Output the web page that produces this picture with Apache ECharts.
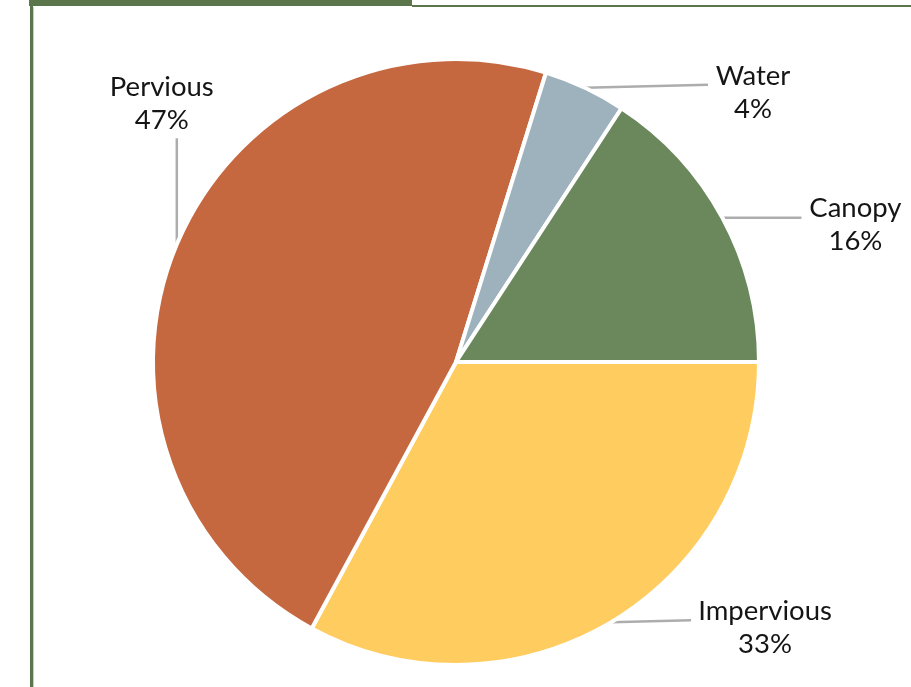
<!DOCTYPE html>
<html><head><meta charset="utf-8">
<script src="https://cdn.jsdelivr.net/npm/echarts@6/dist/echarts.min.js"></script>
<style>html,body{margin:0;padding:0;background:#fff}#c{width:911px;height:687px}</style>
</head><body><div id="c"></div>
<script>
// Data
const categories = ['Impervious', 'Pervious', 'Water', 'Canopy'];
const values = [32.9, 46.9, 4.4, 15.8];

// Styles
const sliceColors = ['#FFCC60', '#C56840', '#9EB2BD', '#6A885C'];
// leader line end and label center, relative to the slice's edge anchor
const labelPlace = {
  Impervious: { line: [80, -2], text: [154, 5] },
  Pervious:   { line: [0, -106], text: [-15, -141] },
  Water:      { line: [123, -3], text: [168, 5] },
  Canopy:     { line: [79, 0], text: [133, 7] }
};

const chart = echarts.init(document.getElementById('c'), null, { renderer: 'canvas' });
const frameColor = '#5B764B';
chart.setOption({
  animation: false,
  backgroundColor: '#ffffff',
  graphic: [
    { type: 'rect', shape: { x: 29, y: 0, width: 383, height: 6 }, style: { fill: frameColor } },
    { type: 'rect', shape: { x: 412, y: 5, width: 499, height: 2 }, style: { fill: frameColor } },
    { type: 'rect', shape: { x: 30, y: 6, width: 3, height: 681 }, style: { fill: frameColor } },
    { type: 'rect', shape: { x: 33, y: 7, width: 1, height: 680 }, style: { fill: '#C9D3C2' } }
  ],
  series: [{
    type: 'pie',
    center: [456, 362],
    radius: 303,
    startAngle: 0,
    clockwise: true,
    itemStyle: { borderColor: '#ffffff', borderWidth: 4 },
    label: {
      show: true,
      position: 'outside',
      formatter: p => p.name + '\n' + Math.round(p.value) + '%',
      fontFamily: 'Lato',
      fontSize: 27.5,
      lineHeight: 33,
      color: '#151515',
      align: 'center'
    },
    labelLine: { show: true, length: 10, length2: 10, lineStyle: { color: '#ADADAD', width: 2.5 } },
    labelLayout: function (params) {
      const name = categories[params.dataIndex];
      const pl = labelPlace[name];
      const a = params.labelLinePoints[0];
      const e = [a[0] + pl.line[0], a[1] + pl.line[1]];
      return {
        x: a[0] + pl.text[0],
        y: a[1] + pl.text[1],
        align: 'center',
        verticalAlign: 'middle',
        labelLinePoints: [a, e, e]
      };
    },
    emphasis: { disabled: true },
    data: categories.map((c, i) => ({ name: c, value: values[i], itemStyle: { color: sliceColors[i] } }))
  }]
});
</script></body></html>
